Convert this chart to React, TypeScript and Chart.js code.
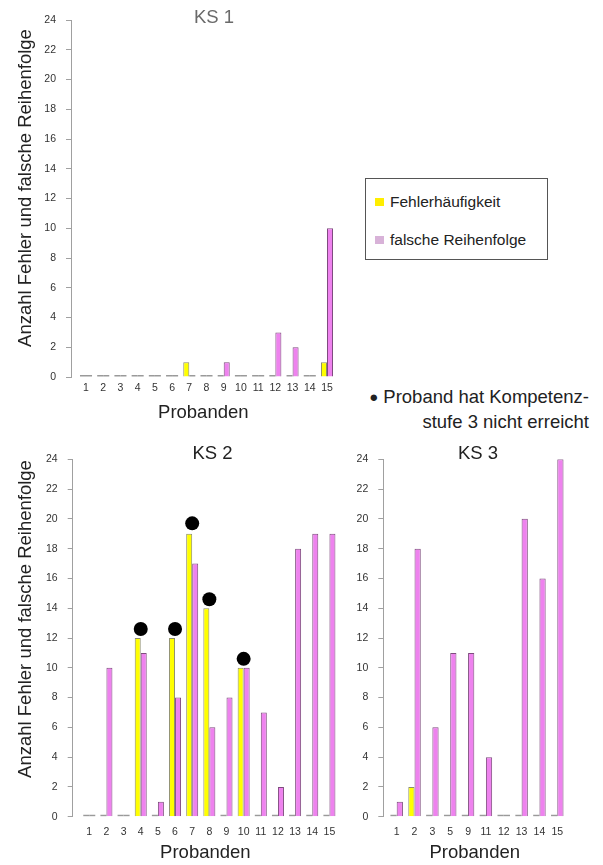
import React, { useEffect, useRef } from "react";
import { Chart, registerables } from "chart.js";

Chart.register(...registerables);

// ---------- data ----------
const ks1Labels = ["1", "2", "3", "4", "5", "6", "7", "8", "9", "10", "11", "12", "13", "14", "15"];
const ks1Fehler = [0, 0, 0, 0, 0, 0, 1, 0, 0, 0, 0, 0, 0, 0, 1];
const ks1Reihenfolge = [0, 0, 0, 0, 0, 0, 0, 0, 1, 0, 0, 3, 2, 0, 10];

const ks2Labels = ["1", "2", "3", "4", "5", "6", "7", "8", "9", "10", "11", "12", "13", "14", "15"];
const ks2Fehler = [0, 0, 0, 12, 0, 12, 19, 14, 0, 10, 0, 0, 0, 0, 0];
const ks2Reihenfolge = [0, 10, 0, 11, 1, 8, 17, 6, 8, 10, 7, 2, 18, 19, 19];
const ks2NichtErreicht = [null, null, null, 12.6, null, 12.6, 19.7, 14.6, null, 10.6, null, null, null, null, null];

const ks3Labels = ["1", "2", "3", "5", "9", "11", "12", "13", "14", "15"];
const ks3Fehler = [0, 2, 0, 0, 0, 0, 0, 0, 0, 0];
const ks3Reihenfolge = [1, 18, 6, 11, 11, 4, 0, 20, 16, 24];

const yMin = 0;
const yMax = 24;
const yStep = 2;

const seriesNames = ["Fehlerhäufigkeit", "falsche Reihenfolge"];
const panelTitles = ["KS 1", "KS 2", "KS 3"];
const xTitle = "Probanden";
const yTitle = "Anzahl Fehler und falsche Reihenfolge";
const noteLines = ["Proband hat Kompetenz-", "stufe 3 nicht erreicht"];

// ---------- styles ----------
const FONT = "'Liberation Sans', Arial, sans-serif";
const YELLOW = "#ffff00";
const YELLOW_BORDER = "#8c8c6c";
const PINK = "#ee82ee";
const PINK_BORDER = "#7e4c7e";
const ZERO = "#9a9a9a";

type PanelProps = {
  labels: string[];
  fehler: number[];
  reihen: number[];
  dots?: (number | null)[];
  left: number;
  top: number;
  width: number;
  height: number;
  yAxisWidth: number;
  padTop: number;
  padRight: number;
  xAxisHeight: number;
  xMin: number;
  tickPad: number;
  titlePadBottom: number;
};

function Panel(p: PanelProps) {
  const ref = useRef<HTMLCanvasElement | null>(null);
  useEffect(() => {
    if (!ref.current) return;
    const toPts = (arr: (number | null)[]) => arr.map((v, i) => ({ x: i + 1, y: v }));
    const barColor = (fill: string) => (ctx: any) => (ctx.parsed && ctx.parsed.y === 0 ? ZERO : fill);
    const barBorderW = (ctx: any) => (ctx.parsed && ctx.parsed.y === 0 ? 0 : 1);
    const datasets: any[] = [
      {
        type: "bar",
        label: seriesNames[0],
        data: toPts(p.fehler),
        backgroundColor: barColor(YELLOW),
        borderColor: YELLOW_BORDER,
        borderWidth: barBorderW,
        borderSkipped: "bottom",
        minBarLength: 2,
        categoryPercentage: 0.7,
        barPercentage: 1,
        order: 1,
      },
      {
        type: "bar",
        label: seriesNames[1],
        data: toPts(p.reihen),
        backgroundColor: barColor(PINK),
        borderColor: PINK_BORDER,
        borderWidth: barBorderW,
        borderSkipped: "bottom",
        minBarLength: 2,
        categoryPercentage: 0.7,
        barPercentage: 1,
        order: 1,
      },
    ];
    if (p.dots) {
      datasets.push({
        type: "line",
        label: "nicht erreicht",
        data: toPts(p.dots),
        showLine: false,
        pointRadius: 7,
        pointBackgroundColor: "#000",
        pointBorderColor: "#000",
        pointBorderWidth: 0,
        order: 0,
      });
    }
    const labels = p.labels;
    const chart = new Chart(ref.current, {
      type: "bar",
      data: { datasets },
      options: {
        animation: false,
        responsive: false,
        events: [],
        layout: { padding: { top: p.padTop, right: p.padRight, left: 0, bottom: 0 } },
        plugins: { legend: { display: false }, tooltip: { enabled: false }, title: { display: false } },
        scales: {
          x: {
            type: "linear",
            offset: false,
            min: p.xMin,
            max: labels.length + 0.5,
            grid: { display: false, drawTicks: false, offset: false },
            border: { display: false },
            afterBuildTicks: (s: any) => {
              s.ticks = labels.map((_, i) => ({ value: i + 1 }));
            },
            afterFit: (s: any) => {
              s.height = p.xAxisHeight;
            },
            ticks: {
              autoSkip: false,
              maxRotation: 0,
              padding: p.tickPad,
              color: "#333",
              font: { family: FONT, size: 10.5 },
              callback: (v: any) => labels[Math.round(v) - 1] ?? "",
            },
            title: {
              display: true,
              text: xTitle,
              color: "#222",
              font: { family: FONT, size: 18.5 },
              padding: { top: 0, bottom: p.titlePadBottom },
            },
          },
          y: {
            type: "linear",
            min: yMin,
            max: yMax,
            afterFit: (s: any) => {
              s.width = p.yAxisWidth;
            },
            grid: { drawOnChartArea: false, drawTicks: true, tickLength: 5, color: "#a0a0a0" },
            border: { display: true, color: "#a0a0a0", width: 1 },
            ticks: {
              stepSize: yStep,
              padding: 10,
              color: "#333",
              font: { family: FONT, size: 10.5 },
            },
          },
        },
      } as any,
    });
    return () => chart.destroy();
  }, []);
  return (
    <canvas
      ref={ref}
      width={p.width}
      height={p.height}
      style={{ position: "absolute", left: p.left, top: p.top, width: p.width, height: p.height }}
    />
  );
}

const textBase: React.CSSProperties = {
  position: "absolute",
  fontFamily: FONT,
  whiteSpace: "nowrap",
  lineHeight: 1,
};

function Centered(props: { x: number; y: number; size: number; color: string; rotate?: boolean; children: any }) {
  return (
    <div
      style={{
        ...textBase,
        left: props.x,
        top: props.y,
        fontSize: props.size,
        color: props.color,
        transform: `translate(-50%, -50%)${props.rotate ? " rotate(-90deg)" : ""}`,
      }}
    >
      {props.children}
    </div>
  );
}

export default function App() {
  return (
    <div style={{ position: "absolute", left: 0, top: 0, width: 603, height: 865, background: "#fff", overflow: "hidden" }}>
      <Panel
        labels={ks1Labels}
        fehler={ks1Fehler}
        reihen={ks1Reihenfolge}
        left={0}
        top={0}
        width={345}
        height={430}
        yAxisWidth={71}
        padTop={20}
        padRight={9.4}
        xAxisHeight={53}
        xMin={0.128}
        tickPad={5}
        titlePadBottom={6}
      />
      <Panel
        labels={ks2Labels}
        fehler={ks2Fehler}
        reihen={ks2Reihenfolge}
        dots={ks2NichtErreicht}
        left={0}
        top={440}
        width={345}
        height={425}
        yAxisWidth={72.7}
        padTop={19.3}
        padRight={7}
        xAxisHeight={48.3}
        xMin={0.034}
        tickPad={9}
        titlePadBottom={1}
      />
      <Panel
        labels={ks3Labels}
        fehler={ks3Fehler}
        reihen={ks3Reihenfolge}
        left={345}
        top={440}
        width={258}
        height={425}
        yAxisWidth={38.3}
        padTop={19.3}
        padRight={36.8}
        xAxisHeight={48.3}
        xMin={0.25}
        tickPad={9}
        titlePadBottom={1}
      />

      <Centered x={214} y={17} size={18.5} color="#6a6a6a">{panelTitles[0]}</Centered>
      <Centered x={212.5} y={453} size={18.5} color="#222">{panelTitles[1]}</Centered>
      <Centered x={478} y={453} size={18.5} color="#222">{panelTitles[2]}</Centered>

      <Centered x={25} y={188} size={18.5} color="#222" rotate>{yTitle}</Centered>
      <Centered x={25} y={619} size={18.5} color="#222" rotate>{yTitle}</Centered>

      <div
        style={{
          position: "absolute",
          left: 365,
          top: 178,
          width: 181,
          height: 80,
          border: "1px solid #555",
          background: "#fff",
        }}
      >
        <div style={{ position: "absolute", left: 9, top: 19, width: 9, height: 8, background: "#ffee00" }} />
        <div style={{ ...textBase, left: 24, top: 22.7, transform: "translateY(-50%)", fontSize: 15.5, color: "#222" }}>
          {seriesNames[0]}
        </div>
        <div style={{ position: "absolute", left: 9, top: 57, width: 9, height: 8, background: "#d8b2d8" }} />
        <div style={{ ...textBase, left: 24, top: 60.7, transform: "translateY(-50%)", fontSize: 15.5, color: "#222" }}>
          {seriesNames[1]}
        </div>
      </div>

      <div style={{ ...textBase, right: 603 - 589, top: 397, transform: "translateY(-50%)", fontSize: 18.5, color: "#222", textAlign: "right" }}>
        <span style={{ fontSize: 15, verticalAlign: "1px", marginRight: 5 }}>●</span>
        {noteLines[0]}
      </div>
      <div style={{ ...textBase, right: 603 - 589, top: 422, transform: "translateY(-50%)", fontSize: 18.5, color: "#222", textAlign: "right" }}>
        {noteLines[1]}
      </div>
    </div>
  );
}
